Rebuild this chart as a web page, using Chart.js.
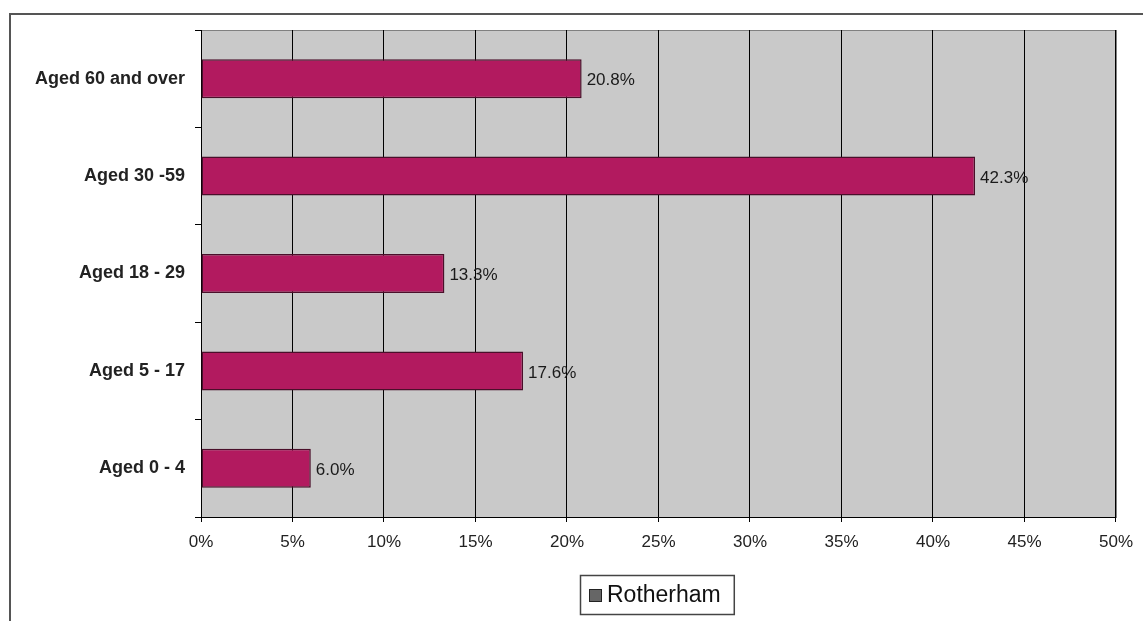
<!DOCTYPE html>
<html lang="en">
<head>
  <meta charset="UTF-8">
  <title>Rotherham age groups</title>
  <script src="https://cdn.jsdelivr.net/npm/chart.js"></script>
  <style>
    html, body { margin: 0; padding: 0; background: #fff; }
    #wrap { width: 1143px; height: 621px; }
  </style>
</head>
<body>
  <div id="wrap"><canvas id="ageChart" width="1143" height="621"></canvas></div>

  <script>
    // Data
    const ageGroups = ['Aged 60 and over', 'Aged 30 -59', 'Aged 18 - 29', 'Aged 5 - 17', 'Aged 0 - 4'];
    const rotherham = [20.8, 42.3, 13.3, 17.6, 6.0];
    const xTicks = [0, 5, 10, 15, 20, 25, 30, 35, 40, 45, 50];

    const FONT = 'Arial, "Liberation Sans", sans-serif';

    // grey plot background, outer frame, value labels, boxed legend
    const decorations = {
      id: 'decorations',
      beforeDraw(chart) {
        const ctx = chart.ctx, a = chart.chartArea;
        ctx.save();
        ctx.fillStyle = '#fff';
        ctx.fillRect(0, 0, chart.width, chart.height);
        ctx.strokeStyle = '#555';
        ctx.lineWidth = 2;
        ctx.beginPath();
        ctx.moveTo(10, chart.height);
        ctx.lineTo(10, 14);
        ctx.lineTo(chart.width, 14);
        ctx.stroke();
        ctx.fillStyle = '#c9c9c9';
        ctx.fillRect(a.left, a.top, a.right - a.left, a.bottom - a.top);
        ctx.strokeStyle = '#808080';
        ctx.lineWidth = 1;
        ctx.strokeRect(a.left + 0.5, a.top + 0.5, a.right - a.left, a.bottom - a.top);
        ctx.restore();
      },
      afterDatasetsDraw(chart) {
        const ctx = chart.ctx;
        const meta = chart.getDatasetMeta(0);
        ctx.save();
        ctx.font = '17px ' + FONT;
        ctx.fillStyle = '#1a1a1a';
        ctx.textBaseline = 'middle';
        ctx.textAlign = 'left';
        meta.data.forEach((bar, i) => {
          ctx.fillText(rotherham[i].toFixed(1) + '%', bar.x + 5, bar.y + 2);
        });

        // legend box
        const label = chart.data.datasets[0].label;
        ctx.font = '23px ' + FONT;
        const tw = ctx.measureText(label).width;
        const bw = tw + 40, bh = 39;
        const bx = 580;
        const by = 575;
        ctx.fillStyle = '#fff';
        ctx.fillRect(bx, by, bw, bh);
        ctx.strokeStyle = '#444';
        ctx.lineWidth = 1.5;
        ctx.strokeRect(bx + 0.5, by + 0.5, bw, bh);
        ctx.fillStyle = '#666';
        ctx.strokeStyle = '#222';
        ctx.lineWidth = 1;
        ctx.fillRect(bx + 9, by + 14, 13, 13);
        ctx.strokeRect(bx + 9.5, by + 14.5, 12, 12);
        ctx.fillStyle = '#111';
        ctx.fillText(label, bx + 27, by + bh / 2 + 1);
        ctx.restore();
      }
    };

    new Chart(document.getElementById('ageChart').getContext('2d'), {
      type: 'bar',
      data: {
        labels: ageGroups,
        datasets: [{
          label: 'Rotherham',
          data: rotherham,
          backgroundColor: '#b21a5f',
          borderColor: '#4a0f2a',
          borderWidth: 1.5,
          borderSkipped: false,
          categoryPercentage: 1.0,
          barPercentage: 0.4
        }]
      },
      options: {
        indexAxis: 'y',
        responsive: false,
        animation: false,
        layout: { padding: { top: 30, right: 27, left: 0, bottom: 59 } },
        plugins: {
          legend: { display: false },
          tooltip: { enabled: false }
        },
        scales: {
          x: {
            min: 0,
            max: 50,
            afterBuildTicks(scale) {
              scale.ticks = xTicks.map(v => ({ value: v }));
            },
            afterFit(scale) { scale.height = 45; },
            grid: { color: '#000', lineWidth: 1, tickLength: 5 },
            border: { color: '#000', width: 1 },
            ticks: {
              padding: 10,
              color: '#222',
              font: { family: FONT, size: 17 },
              callback: v => v + '%'
            }
          },
          y: {
            afterFit(scale) { scale.width = 201; },
            grid: { display: true, offset: true, drawOnChartArea: false, color: '#000', tickLength: 6 },
            border: { color: '#000', width: 1 },
            ticks: {
              padding: 10,
              color: '#222',
              font: { family: FONT, size: 18, weight: 'bold' }
            }
          }
        }
      },
      plugins: [decorations]
    });
  </script>
</body>
</html>
